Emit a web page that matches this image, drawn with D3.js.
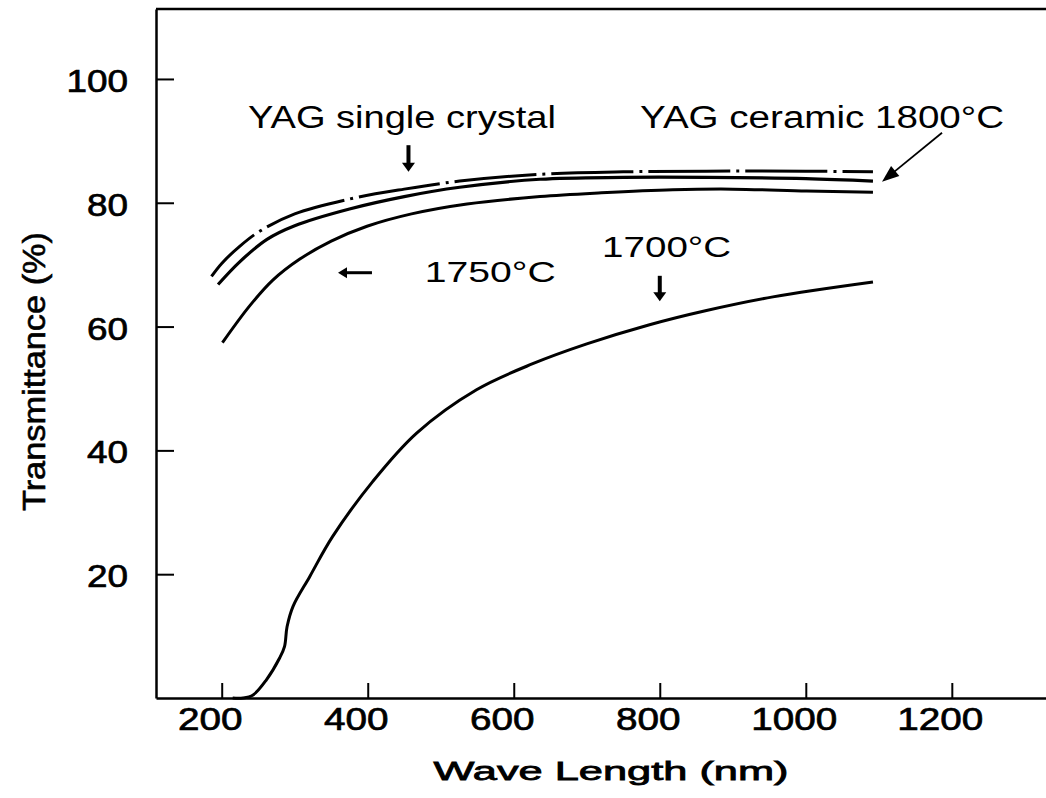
<!DOCTYPE html>
<html>
<head>
<meta charset="utf-8">
<script src="https://cdn.jsdelivr.net/npm/d3@7"></script>
<style>
  html, body { margin: 0; padding: 0; background: #fff; }
  svg { display: block; }
  text { font-family: "Liberation Sans", Arial, Helvetica, sans-serif; fill: #000; }
</style>
</head>
<body>
<svg id="chart" width="1046" height="798"></svg>
<script>
// ---------------- data ----------------
const xTicks = [200, 400, 600, 800, 1000, 1200];
const yTicks = [20, 40, 60, 80, 100];

// YAG single crystal (dash-dot)
const crystalNm = [186, 200, 225, 252, 300, 375, 450, 526, 636, 750, 864, 1000, 1092];
const crystalT  = [68.1, 70.2, 73.0, 75.4, 78.2, 80.6, 82.2, 83.5, 84.6, 85.0, 85.1, 85.1, 85.0];

// YAG ceramic 1800°C
const c1800Nm = [195, 225, 262, 300, 375, 450, 526, 636, 750, 864, 1000, 1092];
const c1800T  = [66.8, 70.5, 74.1, 76.3, 79.0, 81.0, 82.5, 83.8, 84.1, 84.1, 83.9, 83.5];

// YAG ceramic 1750°C
const c1750Nm = [201, 238, 270, 307, 350, 399, 460, 536, 636, 720, 818, 900, 1001, 1092];
const c1750T  = [57.4, 63.3, 67.5, 70.9, 73.8, 76.2, 78.2, 79.8, 81.0, 81.6, 82.1, 82.2, 81.9, 81.7];

// YAG ceramic 1700°C
const c1700Nm = [215, 229, 243, 261, 279.5, 286, 289.5, 297.7, 320.5, 352, 407, 467, 549, 626, 700, 786, 864, 955, 1092];
const c1700T  = [0, 0, 0.5, 2.9, 6.5, 8.3, 11.5, 14.8, 19.6, 26.1, 35.0, 42.8, 49.8, 54.0, 57.2, 60.3, 62.6, 64.8, 67.2];

const labelTexts = ["YAG single crystal", "YAG ceramic 1800°C", "1750°C", "1700°C"];
const xTitle = "Wave Length (nm)";
const yTitle = "Transmittance (%)";

// ---------------- layout ----------------
const svg = d3.select("#chart");
const plotLeft = 156, plotRight = 1046, plotTop = 9, plotBottom = 698;

const x = d3.scaleLinear().domain([110, 1329]).range([plotLeft, plotRight]);
const y = d3.scaleLinear().domain([0, 111.3]).range([plotBottom, plotTop]);

const FONT = '"Liberation Sans", Arial, Helvetica, sans-serif';

// frame top line
svg.append("line")
  .attr("x1", plotLeft).attr("x2", plotRight)
  .attr("y1", y(111.3)).attr("y2", y(111.3))
  .attr("stroke", "#000").attr("stroke-width", 2.5);

// x axis
const gx = svg.append("g")
  .attr("transform", `translate(0,${plotBottom})`)
  .call(d3.axisBottom(x).tickValues(xTicks).tickSize(-15).tickSizeOuter(0).tickFormat(d3.format("d")));
gx.select(".domain").attr("stroke-width", 2.5);
gx.selectAll(".tick line").attr("stroke-width", 2);
gx.selectAll(".tick text")
  .attr("x", -12).attr("y", 32).attr("dy", null)
  .attr("font-size", 32).attr("font-family", FONT)
  .attr("text-anchor", "middle")
  .attr("stroke", "#000").attr("stroke-width", 0.7)
  .attr("textLength", d => String(d).length * 21.5)
  .attr("lengthAdjust", "spacingAndGlyphs");

// y axis
const gy = svg.append("g")
  .attr("transform", `translate(${plotLeft},0)`)
  .call(d3.axisLeft(y).tickValues(yTicks).tickSize(-18).tickSizeOuter(0).tickFormat(d3.format("d")));
gy.select(".domain").attr("stroke-width", 2.5);
gy.selectAll(".tick line").attr("stroke-width", 2);
gy.selectAll(".tick text")
  .attr("x", -28).attr("y", 12.5).attr("dy", null)
  .attr("font-size", 32).attr("font-family", FONT)
  .attr("text-anchor", "end")
  .attr("stroke", "#000").attr("stroke-width", 0.7)
  .attr("textLength", d => String(d).length * 20.5)
  .attr("lengthAdjust", "spacingAndGlyphs");

// axis titles
svg.append("text")
  .attr("transform", `translate(45,371.5) rotate(-90)`)
  .attr("text-anchor", "middle")
  .attr("font-size", 32)
  .attr("stroke", "#000").attr("stroke-width", 0.6)
  .attr("textLength", 279).attr("lengthAdjust", "spacingAndGlyphs")
  .text(yTitle);

svg.append("text")
  .attr("x", 611).attr("y", 780)
  .attr("text-anchor", "middle")
  .attr("font-size", 26)
  .attr("stroke", "#000").attr("stroke-width", 0.8)
  .attr("textLength", 355).attr("lengthAdjust", "spacingAndGlyphs")
  .text(xTitle);

// curves
const line = d3.line().x(d => x(d[0])).y(d => y(d[1])).curve(d3.curveCatmullRom.alpha(0.5));
const zip = (a, b) => a.map((v, i) => [v, b[i]]);

const series = [
  { pts: zip(crystalNm, crystalT), dash: "82,6,3,6", offset: 22, w: 3 },
  { pts: zip(c1800Nm, c1800T), dash: null, w: 3.2 },
  { pts: zip(c1750Nm, c1750T), dash: null, w: 3 },
  { pts: zip(c1700Nm, c1700T), dash: null, w: 3 }
];
series.forEach(s => {
  const p = svg.append("path")
    .attr("d", line(s.pts))
    .attr("fill", "none")
    .attr("stroke", "#000")
    .attr("stroke-width", s.w)
    .attr("stroke-linecap", "butt");
  if (s.dash) p.attr("stroke-dasharray", s.dash).attr("stroke-dashoffset", s.offset);
});

// annotation labels (positions in data units)
const labelPos = [
  { nm: 236, t: 92.1, size: 32, len: 308 },
  { nm: 773, t: 92.1, size: 31, len: 364 },
  { nm: 478, t: 67.2, size: 29, len: 131 },
  { nm: 721, t: 71.2, size: 30, len: 129 }
];
labelTexts.forEach((txt, i) => {
  const p = labelPos[i];
  svg.append("text")
    .attr("x", x(p.nm)).attr("y", y(p.t))
    .attr("font-size", p.size)
    .attr("textLength", p.len).attr("lengthAdjust", "spacingAndGlyphs")
    .text(txt);
});

// arrows (positions in data units)
function arrow(nm1, t1, nm2, t2, sw, headLen, headW) {
  const x1 = x(nm1), y1 = y(t1), x2 = x(nm2), y2 = y(t2);
  const dx = x2 - x1, dy = y2 - y1, L = Math.hypot(dx, dy);
  const ux = dx / L, uy = dy / L;
  const bx = x2 - ux * headLen, by = y2 - uy * headLen;
  svg.append("line")
    .attr("x1", x1).attr("y1", y1).attr("x2", bx + ux * 1).attr("y2", by + uy * 1)
    .attr("stroke", "#000").attr("stroke-width", sw);
  const px = -uy, py = ux;
  svg.append("path")
    .attr("d", `M${x2},${y2}L${bx + px * headW / 2},${by + py * headW / 2}L${bx - px * headW / 2},${by - py * headW / 2}Z`)
    .attr("fill", "#000");
}
arrow(455.8, 89.3, 455.8, 85.0, 4, 9, 13);       // single crystal
arrow(405.8, 68.7, 359.3, 68.7, 3, 9, 11);       // 1750
arrow(800, 68.2, 800, 64.1, 4, 9, 13);           // 1700
arrow(1186.6, 91.3, 1104.4, 83.4, 1.8, 17, 13);  // 1800
</script>
</body>
</html>
